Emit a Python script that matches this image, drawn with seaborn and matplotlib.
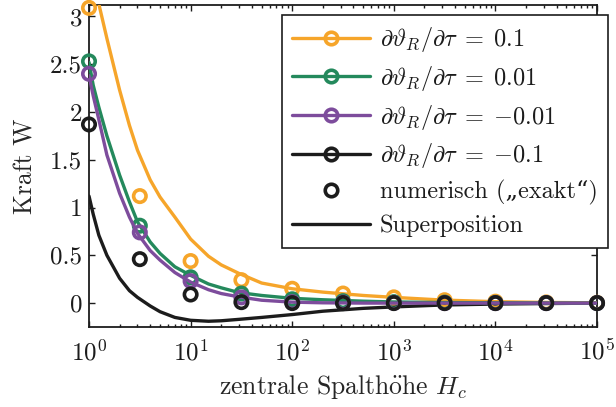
import matplotlib
matplotlib.use("Agg")
import matplotlib.pyplot as plt
import seaborn as sns
from matplotlib.lines import Line2D
from matplotlib.ticker import LogLocator, NullFormatter

# ---- data ----
x_line = [1, 1.1, 1.25, 1.5, 2, 2.5, 3, 4, 5, 7, 10, 15, 20, 30, 50, 100, 200,
          500, 1000, 3000, 1e4, 3e4, 1e5]
orange_line = [3.60, 3.38, 3.13, 2.77, 2.23, 1.86, 1.60, 1.29, 1.11, 0.90, 0.67,
               0.49, 0.40, 0.31, 0.21, 0.15, 0.115, 0.08, 0.06, 0.032, 0.015, 0.007, 0.003]
green_line = [2.52, 2.28, 2.05, 1.75, 1.34, 1.06, 0.85, 0.64, 0.52, 0.38, 0.29,
              0.20, 0.16, 0.11, 0.08, 0.05, 0.035, 0.02, 0.012, 0.006, 0.003, 0.001, 0.0]
purple_line = [2.38, 2.17, 1.92, 1.55, 1.15, 0.90, 0.73, 0.55, 0.45, 0.32, 0.22,
               0.14, 0.10, 0.065, 0.03, 0.01, 0.003, 0.0, 0.0, 0.0, 0.0, 0.0, 0.0]
super_line = [1.12, 0.93, 0.71, 0.50, 0.26, 0.13, 0.06, -0.03, -0.09, -0.15, -0.18,
              -0.19, -0.185, -0.17, -0.15, -0.12, -0.085, -0.055, -0.04, -0.02, -0.01, -0.005, 0.0]

x_circ = [1, 3.1623, 10, 31.623, 100, 316.23, 1000, 3162.3, 1e4, 31623, 1e5]
orange_circ = [3.09, 1.12, 0.44, 0.24, 0.15, 0.10, 0.06, 0.03, 0.015, 0.007, 0.003]
green_circ = [2.53, 0.81, 0.27, 0.10, 0.04, 0.02, 0.01, 0.005, 0.002, 0.001, 0.0]
purple_circ = [2.40, 0.74, 0.23, 0.06, 0.01, 0.005, 0.002, 0.0, 0.0, 0.0, 0.0]
black_circ = [1.87, 0.46, 0.09, 0.01, 0.0, 0.0, 0.0, 0.0, 0.0, 0.0, 0.0]

labels = [r"$\partial\vartheta_R/\partial\tau\;=\;0.1$",
          r"$\partial\vartheta_R/\partial\tau\;=\;0.01$",
          r"$\partial\vartheta_R/\partial\tau\;=\;{-0.01}$",
          r"$\partial\vartheta_R/\partial\tau\;=\;{-0.1}$",
          "numerisch (\u201eexakt\u201c)",
          "Superposition"]
y_ticks = [0, 0.5, 1, 1.5, 2, 2.5, 3]
y_ticklabels = ["0", "0.5", "1", "1.5", "2", "2.5", "3"]
x_ticks = [1, 10, 100, 1000, 1e4, 1e5]

C_OR = "#F6A52A"
C_GR = "#24895C"
C_PU = "#7D4C9C"
C_BK = "#1C1C1C"

sns.set_style("ticks")
plt.rcParams.update({
    "font.family": ["cmr10", "DejaVu Serif"],
    "mathtext.fontset": "cm",
    "axes.formatter.use_mathtext": True,
    "axes.unicode_minus": False,
    "font.size": 17,
    "axes.edgecolor": C_BK,
    "text.color": C_BK,
    "xtick.color": C_BK,
    "ytick.color": C_BK,
})

fig = plt.figure(figsize=(6.16, 4.07), dpi=100)
ax = fig.add_axes([0.1445, 0.1966, 0.8247, 0.7911])

LW = 2.4
sns.lineplot(x=x_line, y=super_line, color=C_BK, lw=LW, ax=ax, estimator=None, sort=False, zorder=2)
series = [(orange_line, orange_circ, C_OR), (green_line, green_circ, C_GR),
          (purple_line, purple_circ, C_PU)]
z = 3
for yl, yc, col in series:
    sns.lineplot(x=x_line, y=yl, color=col, lw=LW, ax=ax, estimator=None, sort=False, zorder=z)
    sns.scatterplot(x=x_circ, y=yc, marker="o", s=80, facecolor="none", edgecolor=col,
                    linewidth=2.6, ax=ax, clip_on=False, zorder=z + 0.5)
    z += 1
sns.scatterplot(x=x_circ, y=black_circ, marker="o", s=80, facecolor="none", edgecolor=C_BK,
                linewidth=2.6, ax=ax, clip_on=False, zorder=10)

ax.set_xscale("log")
ax.set_xlim(1, 1e5)
ax.set_ylim(-0.25, 3.12)
ax.set_xticks(x_ticks)
ax.xaxis.set_minor_locator(LogLocator(base=10, subs=range(2, 10), numticks=20))
ax.xaxis.set_minor_formatter(NullFormatter())
ax.set_yticks(y_ticks)
ax.set_yticklabels(y_ticklabels)
ax.tick_params(which="both", direction="in", top=True, right=True, width=1.0)
ax.tick_params(which="major", length=4.5)
ax.tick_params(which="minor", length=2.5)
ax.tick_params(axis="x", which="major", pad=9, labelsize=18)
ax.tick_params(axis="y", which="major", pad=5, labelsize=18)
for sp in ax.spines.values():
    sp.set_linewidth(1.3)
    sp.set_visible(True)

ax.set_xlabel(r"zentrale Spalth$\mathrm{\ddot{o}}$he $H_c$", fontsize=18.5, labelpad=5)
ax.set_ylabel("Kraft W", fontsize=18.5, labelpad=9)

def mk(col, marker=True, line=True):
    return Line2D([], [], color=col, lw=LW if line else 0, linestyle="-" if line else "none",
                  marker="o" if marker else None, ms=9, mfc="none", mec=col, mew=2.6)

handles = [mk(C_OR), mk(C_GR), mk(C_PU), mk(C_BK), mk(C_BK, line=False), mk(C_BK, marker=False)]
leg = ax.legend(handles, labels, loc="upper left", bbox_to_anchor=(0.4578, 0.9631),
                bbox_transform=fig.transFigure, borderaxespad=0, fontsize=17.5,
                handlelength=3.2, handletextpad=0.4, labelspacing=0.4, borderpad=0.42,
                fancybox=False, framealpha=1, edgecolor=C_BK, numpoints=1)
leg.get_frame().set_linewidth(1.2)
leg.set_zorder(20)

fig.savefig("out.png", dpi=100)
